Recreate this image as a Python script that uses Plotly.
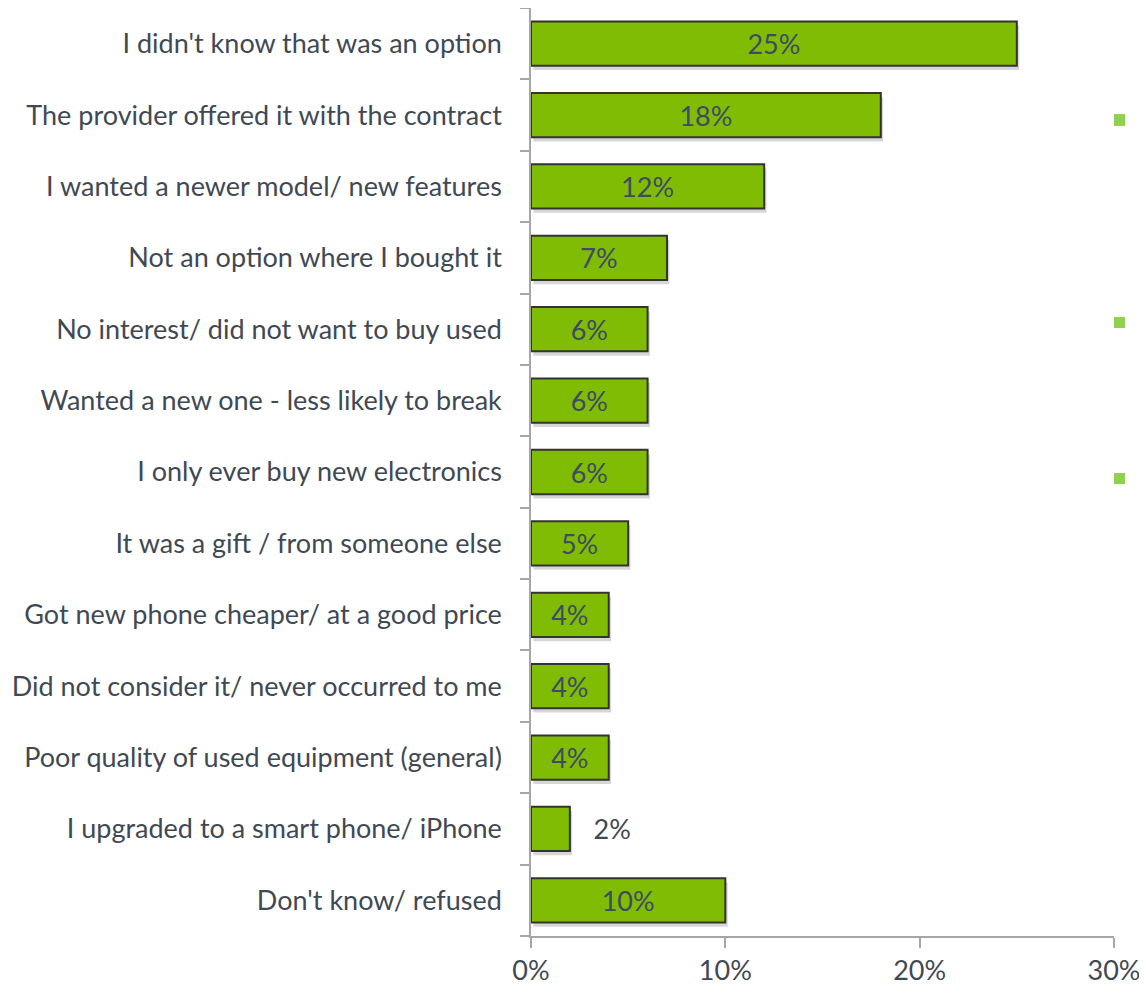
import plotly.graph_objects as go

categories = [
    "I didn't know that was an option",
    "The provider offered it with the contract",
    "I wanted a newer model/ new features",
    "Not an option where I bought it",
    "No interest/ did not want to buy used",
    "Wanted a new one - less likely to break",
    "I only ever buy new electronics",
    "It was a gift / from someone else",
    "Got new phone cheaper/ at a good price",
    "Did not consider it/ never occurred to me",
    "Poor quality of used equipment (general)",
    "I upgraded to a smart phone/ iPhone",
    "Don't know/ refused",
]
values = [25, 18, 12, 7, 6, 6, 6, 5, 4, 4, 4, 2, 10]
x_ticks = [0, 10, 20, 30]
x_tick_labels = ["0%", "10%", "20%", "30%"]

# page is offset by the 8px body margin
OFF = 8
W, H = 1147 - OFF, 1000 - OFF
PL, PR, PT, PB = 531, 1114, 6, 936          # plot area in page pixels
ML, MR = PL - OFF, W - (PR - OFF)
MT, MB = max(PT - OFF, 0), H - (PB - OFF)
FONT = "Lato, Open Sans, sans-serif"
TEXT = "#3f4954"

text_pos = ["outside" if v < 3 else "inside" for v in values]
labels = [("   " if v < 3 else "") + f"{v}%" for v in values]

fig = go.Figure()
# soft drop shadow
fig.add_trace(go.Bar(
    y=categories, x=values, base=0.12, orientation="h",
    marker=dict(color="rgba(0,0,0,0.16)", line=dict(width=0)),
    width=0.62, offset=-0.37, hoverinfo="skip",
))
fig.add_trace(go.Bar(
    y=categories,
    x=values,
    orientation="h",
    marker=dict(color="#7fbc03", line=dict(color="#333333", width=2)),
    text=labels,
    textposition=text_pos,
    insidetextanchor="middle",
    textfont=dict(family=FONT, size=27, color="#3e4b63"),
    outsidetextfont=dict(family=FONT, size=27, color=TEXT),
    cliponaxis=False,
    width=0.62, offset=-0.31,
))

pw = W - ML - MR
ph = H - MT - MB
shapes = []
for (y0, y1) in [(114, 126), (317, 328), (473, 484)]:
    shapes.append(dict(
        type="rect", xref="paper", yref="paper",
        x0=(1114 - PL) / pw, x1=(1125 - PL) / pw,
        y0=(PB - y1) / ph, y1=(PB - y0) / ph,
        fillcolor="#92d050", line=dict(width=0),
    ))

fig.update_layout(
    width=W, height=H,
    margin=dict(l=ML, r=MR, t=MT, b=MB, pad=0),
    paper_bgcolor="white", plot_bgcolor="white",
    showlegend=False,
    barmode="overlay",
    font=dict(family=FONT, size=27, color=TEXT),
    shapes=shapes,
    xaxis=dict(
        range=[0, 30], tickvals=x_ticks, ticktext=x_tick_labels,
        showgrid=False, zeroline=False,
        showline=True, linecolor="#a6a6a6", linewidth=1.5,
        ticks="outside", ticklen=10, tickcolor="#a6a6a6", tickwidth=1.5,
        tickfont=dict(family=FONT, size=27, color=TEXT),
        ticklabelstandoff=0,
    ),
    yaxis=dict(
        categoryorder="array", categoryarray=categories[::-1],
        showgrid=False, zeroline=False,
        showline=True, linecolor="#a6a6a6", linewidth=1.5,
        ticks="outside", ticklen=9, tickcolor="#a6a6a6", tickwidth=1.5,
        tickson="boundaries",
        tickfont=dict(family=FONT, size=27, color=TEXT),
        ticklabelstandoff=22,
    ),
)

fig.write_html("out.html")
